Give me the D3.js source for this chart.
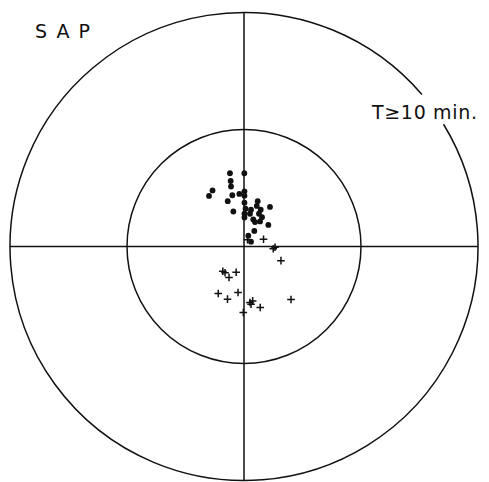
<!DOCTYPE html>
<html>
<head>
<meta charset="utf-8">
<script src="https://cdn.jsdelivr.net/npm/d3@7"></script>
<style>
  html, body { margin: 0; padding: 0; background: #fff; }
  svg { display: block; }
</style>
</head>
<body>
<svg id="chart" width="489" height="482"></svg>
<script>
// ---- data (units: inner circle radius = 1) ----
const ringRadii = [1, 2];
const dotX = [-0.120, 0.003, -0.114, -0.111, -0.269, -0.299, -0.100, -0.040, 0.004, -0.139,
              0.004, 0.004, 0.117, 0.109, 0.222, -0.091, 0.060, 0.143, 0.004, 0.051,
              0.128, 0.004, 0.079, 0.137, 0.208, 0.088, 0.037, 0.060, 0.013, 0.094, 0.154];
const dotY = [0.626, 0.626, 0.560, 0.513, 0.479, 0.432, 0.438, 0.449, 0.472, 0.387,
              0.434, 0.374, 0.387, 0.347, 0.338, 0.299, 0.314, 0.314, 0.280, 0.280,
              0.280, 0.248, 0.231, 0.214, 0.184, 0.133, 0.092, 0.041, 0.323, 0.209, 0.251];
const crossX = [0.030, 0.167, 0.250, 0.265, 0.316, -0.181, -0.162, -0.128, -0.067,
                -0.220, -0.141, -0.051, 0.051, 0.074, 0.139, -0.006, 0.402, 0.060];
const crossY = [0.058, 0.062, -0.019, -0.006, -0.121, -0.211, -0.224, -0.265, -0.220,
                -0.402, -0.450, -0.393, -0.479, -0.465, -0.521, -0.564, -0.453, -0.493];
const titleLabel = "SAP";
const conditionLabel = "T\u226510 min.";

// ---- layout ----
const cx = 244, cy = 246.5, R = 234;
const svg = d3.select("#chart");
const x = d3.scaleLinear().domain([-2, 2]).range([cx - R, cx + R]);
const y = d3.scaleLinear().domain([-2, 2]).range([cy + R, cy - R]);
const r = d3.scaleLinear().domain([0, 2]).range([0, R]);
const ink = "#111";
const lw = 1.5;

const g = svg.append("g");

// axes lines
g.append("line").attr("x1", x(0)).attr("x2", x(0)).attr("y1", y(2)).attr("y2", y(-2))
  .attr("stroke", ink).attr("stroke-width", lw);
g.append("line").attr("x1", x(-2)).attr("x2", x(2)).attr("y1", y(0)).attr("y2", y(0))
  .attr("stroke", ink).attr("stroke-width", lw);

// rings (outer ring broken where the label sits)
const deg = Math.PI / 180;
const arc = d3.arc();
ringRadii.forEach((rv, i) => {
  const segs = (i === ringRadii.length - 1)
    ? [[58.5 * deg, 49.5 * deg + 2 * Math.PI]]
    : [[0, 2 * Math.PI]];
  segs.forEach(([a0, a1]) => {
    g.append("path")
      .attr("transform", `translate(${x(0)},${y(0)})`)
      .attr("d", arc({innerRadius: r(rv), outerRadius: r(rv), startAngle: a0, endAngle: a1}))
      .attr("fill", "none").attr("stroke", ink).attr("stroke-width", lw);
  });
});

// dots
const dots = dotX.map((v, i) => ({x: v, y: dotY[i]}));
g.selectAll("circle.dot").data(dots).join("circle")
  .attr("class", "dot")
  .attr("cx", d => x(d.x)).attr("cy", d => y(d.y)).attr("r", 2.9)
  .attr("fill", ink);

// crosses
const crosses = crossX.map((v, i) => ({x: v, y: crossY[i]}));
const s = 3.8;
g.selectAll("path.cross").data(crosses).join("path")
  .attr("class", "cross")
  .attr("d", d => `M${x(d.x) - s},${y(d.y)}H${x(d.x) + s}M${x(d.x)},${y(d.y) - s}V${y(d.y) + s}`)
  .attr("stroke", ink).attr("stroke-width", 1.5).attr("fill", "none");

// labels
svg.append("text").attr("x", 35).attr("y", 38)
  .attr("font-family", "'DejaVu Sans', sans-serif").attr("font-size", 19)
  .attr("textLength", 55).attr("lengthAdjust", "spacing")
  .attr("fill", ink).text(titleLabel);
svg.append("text").attr("x", 372).attr("y", 118.5)
  .attr("font-family", "'DejaVu Sans', sans-serif").attr("font-size", 19)
  .attr("textLength", 105).attr("lengthAdjust", "spacing")
  .attr("fill", ink).text(conditionLabel);
</script>
</body>
</html>
